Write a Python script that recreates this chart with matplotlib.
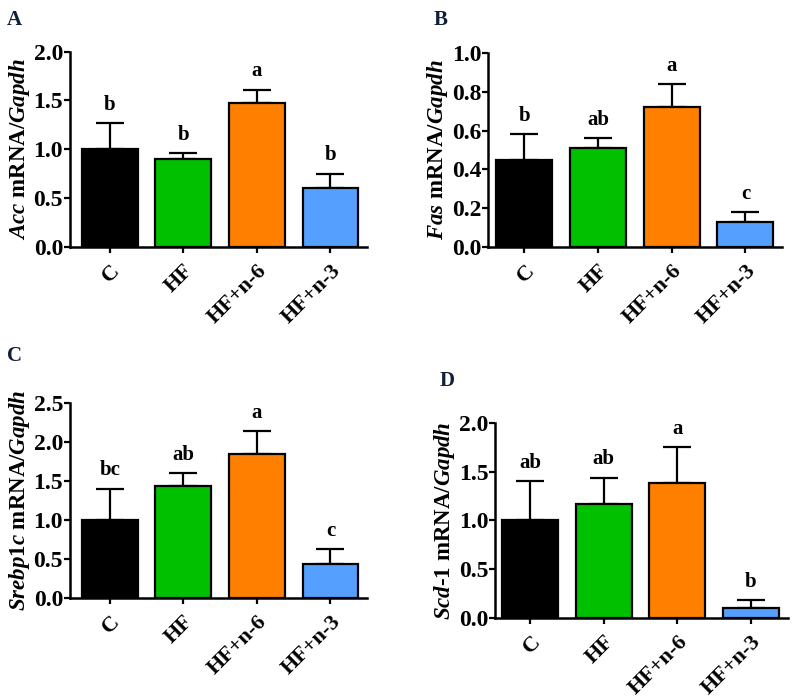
import matplotlib
matplotlib.use("Agg")
import matplotlib.pyplot as plt

plt.rcParams["font.family"] = ["Liberation Serif", "DejaVu Serif"]
plt.rcParams["font.weight"] = "bold"
plt.rcParams["mathtext.fontset"] = "custom"
plt.rcParams["mathtext.rm"] = "Liberation Serif:bold"
plt.rcParams["mathtext.it"] = "Liberation Serif:italic:bold"

# groups and bar colours
groups = ["C", "HF", "HF+n-6", "HF+n-3"]
bar_colors = ["#000000", "#00c000", "#ff8000", "#55a0ff"]

# panel A: Acc
acc_mean = [1.00, 0.90, 1.47, 0.60]
acc_sem = [0.27, 0.06, 0.14, 0.15]
acc_letters = ["b", "b", "a", "b"]

# panel B: Fas
fas_mean = [0.45, 0.51, 0.72, 0.13]
fas_sem = [0.13, 0.05, 0.12, 0.05]
fas_letters = ["b", "ab", "a", "c"]

# panel C: Srebp1c
srebp_mean = [1.00, 1.43, 1.84, 0.44]
srebp_sem = [0.40, 0.17, 0.30, 0.19]
srebp_letters = ["bc", "ab", "a", "c"]

# panel D: Scd-1
scd_mean = [1.00, 1.17, 1.38, 0.10]
scd_sem = [0.40, 0.27, 0.37, 0.08]
scd_letters = ["ab", "ab", "a", "b"]

fig = plt.figure(figsize=(7.95, 6.99), dpi=100)

panels = [
    ("A", [0.088, 0.647, 0.374, 0.279], acc_mean, acc_sem, acc_letters,
     r"$\mathit{Acc}$ mRNA/$\mathit{Gapdh}$", 2.0, [0, 0.5, 1.0, 1.5, 2.0], -0.54, (0.009, 0.972)),
    ("B", [0.614, 0.647, 0.370, 0.277], fas_mean, fas_sem, fas_letters,
     r"$\mathit{Fas}$ mRNA/$\mathit{Gapdh}$", 1.0, [0, 0.2, 0.4, 0.6, 0.8, 1.0], -0.49, (0.545, 0.972)),
    ("C", [0.088, 0.1445, 0.374, 0.279], srebp_mean, srebp_sem, srebp_letters,
     r"$\mathit{Srebp1c}$ mRNA/$\mathit{Gapdh}$", 2.5, [0, 0.5, 1.0, 1.5, 2.0, 2.5], -0.54, (0.009, 0.49)),
    ("D", [0.623, 0.116, 0.368, 0.279], scd_mean, scd_sem, scd_letters,
     r"$\mathit{Scd}$-$\mathit{1}$ mRNA/$\mathit{Gapdh}$", 2.0, [0, 0.5, 1.0, 1.5, 2.0], -0.475, (0.553, 0.455)),
]

for tag, rect, mean, sem, letters, ylabel, ymax, yticks, xleft, tagpos in panels:
    ax = fig.add_axes(rect)
    x = range(len(groups))
    ax.bar(x, mean, width=0.76, color=bar_colors, edgecolor="black",
           linewidth=1.6, zorder=3)
    # upper error bars only
    ax.errorbar(x, mean, yerr=[[0] * len(mean), sem], fmt="none",
                ecolor="black", elinewidth=1.6, capsize=10, capthick=1.6, zorder=2)
    for xi, m, s, letter in zip(x, mean, sem, letters):
        ax.annotate(letter, (xi, m + s), xytext=(0, 6), textcoords="offset points",
                    ha="center", va="bottom", fontsize=15, fontweight="bold")

    ax.set_xlim(xleft, 3.5)
    ax.set_ylim(0, ymax)
    ax.set_yticks(yticks)
    ax.set_yticklabels([f"{t:.1f}" for t in yticks])
    ax.set_xticks(list(x))
    ax.set_xticklabels(groups, rotation=45, ha="right", rotation_mode="anchor")
    ax.tick_params(axis="both", width=1.6, length=4, direction="out")
    ax.tick_params(axis="y", labelsize=17, pad=1)
    ax.tick_params(axis="x", labelsize=16, pad=6)
    ax.set_ylabel(ylabel, fontsize=16.5, fontweight="bold", labelpad=1)

    for side in ["top", "right"]:
        ax.spines[side].set_visible(False)
    for side in ["left", "bottom"]:
        ax.spines[side].set_linewidth(1.8)

    fig.text(tagpos[0], tagpos[1], tag, fontsize=15, fontweight="bold",
             color="#10203a", va="center", ha="left")

plt.savefig("out.png", dpi=100)
